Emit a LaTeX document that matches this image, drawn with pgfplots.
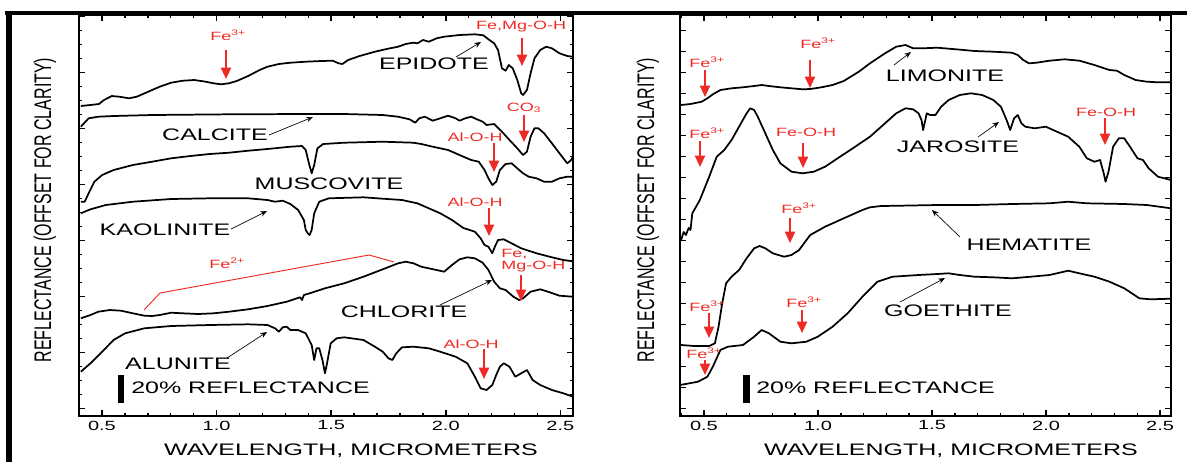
\documentclass[border=0pt]{standalone}
\usepackage{fontspec}
\setmainfont{Liberation Sans}[FakeStretch=1.5]
\newfontfamily\plainsans{Liberation Sans}
\usepackage{pgfplots}
\pgfplotsset{compat=1.18}
\usetikzlibrary{arrows.meta}
\definecolor{myred}{RGB}{238,42,36}
\pgfplotsset{spec/.style={
  scale only axis, height=300.75pt,
  ymin=0, ymax=401,
  axis line style={line width=1.5pt},
  tick align=inside, tick pos=both,
  xtick={0.5,1.0,1.5,2.0,2.5},
  xticklabels={0.5,1.0,1.5,2.0,2.5},
  minor xtick={0.4,0.6,0.7,0.8,0.9,1.1,1.2,1.3,1.4,1.6,1.7,1.8,1.9,2.1,2.2,2.3,2.4},
  yticklabels={},
  major tick length=4.5pt, minor tick length=2.6pt,
  tick style={line width=1.1pt, black},
  xticklabel style={font=\fontsize{10}{12}\selectfont},
  /pgf/number format/assume math mode=true,
  cycle list={black\\},
  every axis plot/.append style={line width=1.3pt, line join=round, no marks},
}}
\tikzset{
  lbl/.style={font=\fontsize{12.5}{14}\selectfont, inner sep=0pt},
  rl/.style={text=myred, font=\fontsize{9}{10}\selectfont, inner sep=0pt},
  rarr/.style={myred, line width=1.5pt, -{Triangle[length=8.5pt,width=7.5pt]}},
  barr/.style={black, line width=0.5pt, -{Stealth[length=5pt,width=4pt]}},
}
\begin{document}
\begin{tikzpicture}
\path[use as bounding box] (0,0) rectangle (890.25pt,-346.5pt);
% ---------------- LEFT PANEL ----------------
\begin{axis}[spec, at={(59.25pt,-312pt)}, anchor=south west, width=370.5pt,
  xmin=0.4, xmax=2.555,
  ytick={7.7,63.7,119.7,175.7,231.7,287.7,343.7,399.7},
  minor ytick={21.7,35.7,49.7,77.7,91.7,105.7,133.7,147.7,161.7,189.7,203.7,217.7,245.7,259.7,273.7,301.7,315.7,329.7,357.7,371.7,385.7}]
% EPIDOTE
\addplot coordinates {(0.408,310)(0.450,311)(0.487,312)(0.509,316)(0.543,320)(0.576,319.3)(0.618,317.7)(0.652,319.3)(0.702,324.3)(0.752,329.3)(0.802,333.3)(0.853,335.3)(0.903,336)(0.953,334.3)(0.987,332.7)(1.020,331.7)(1.054,332.7)(1.088,335)(1.138,340)(1.188,346)(1.222,349.3)(1.272,352)(1.322,353.3)(1.389,354.3)(1.457,355)(1.507,355.3)(1.532,352.7)(1.549,352)(1.574,356)(1.624,360)(1.691,364.3)(1.742,367)(1.792,369.3)(1.825,372)(1.859,373.3)(1.876,372.7)(1.901,376)(1.926,374.3)(1.943,376)(1.960,377.7)(1.993,379.3)(2.060,381)(2.127,381.7)(2.164,380.7)(2.186,376.7)(2.211,372.7)(2.228,366)(2.245,347.7)(2.261,345.3)(2.275,351)(2.292,347.7)(2.312,336)(2.329,322.7)(2.337,321)(2.354,326)(2.370,342.7)(2.387,357.7)(2.412,366)(2.438,369.3)(2.463,367.7)(2.496,362.7)(2.530,360)(2.555,359.3)};
% CALCITE
\addplot coordinates {(0.408,289.3)(0.442,297.7)(0.484,299.3)(0.551,300)(0.719,301)(1.054,301.7)(1.389,302)(1.557,302)(1.725,301)(1.792,299.3)(1.842,296.7)(1.867,293.3)(1.884,297.7)(1.909,299.3)(1.943,295.3)(1.976,297.7)(2.010,300.3)(2.043,297.7)(2.060,295.3)(2.085,297.7)(2.111,299.3)(2.136,296.7)(2.161,294.3)(2.178,291)(2.211,292)(2.245,284.3)(2.278,276)(2.312,267.7)(2.337,261)(2.354,264.3)(2.370,279.3)(2.387,287.7)(2.404,287.7)(2.429,282.7)(2.463,272.7)(2.496,262.7)(2.530,252.7)(2.547,256)(2.555,259.3)};
% MUSCOVITE
\addplot coordinates {(0.408,214.3)(0.425,214.3)(0.442,222.7)(0.467,234.3)(0.501,241)(0.551,246)(0.635,251)(0.719,254.3)(0.802,257.7)(0.886,260)(0.970,262)(1.054,263.3)(1.138,265.3)(1.222,267)(1.322,269.3)(1.373,270)(1.389,266)(1.403,252.7)(1.415,242.7)(1.426,251)(1.440,267.7)(1.465,272)(1.557,273.3)(1.725,274.3)(1.859,273.3)(1.893,272)(1.943,269.3)(2.010,266)(2.060,261)(2.111,256)(2.144,254.3)(2.169,246)(2.186,237.7)(2.203,231)(2.220,234.3)(2.236,246)(2.261,252)(2.287,252.7)(2.312,247.7)(2.337,242.7)(2.362,239.3)(2.396,237.7)(2.429,234.3)(2.463,234.3)(2.496,237.7)(2.530,239.3)(2.555,239.3)};
% KAOLINITE
\addplot coordinates {(0.408,202.7)(0.450,206.7)(0.517,211)(0.635,214.3)(0.802,217)(0.970,217.7)(1.138,217.7)(1.222,216)(1.255,214.3)(1.289,215.3)(1.322,212)(1.356,206)(1.381,196)(1.389,186)(1.398,182.7)(1.406,181)(1.415,186)(1.426,202.7)(1.448,214.3)(1.490,217.7)(1.641,218.7)(1.725,217.3)(1.809,216)(1.876,212.7)(1.926,207.7)(1.976,202.7)(2.027,196)(2.077,188)(2.127,184.3)(2.152,177.7)(2.169,171)(2.186,169.3)(2.203,162.7)(2.214,169.3)(2.228,176)(2.253,176.7)(2.287,172.7)(2.329,167.7)(2.396,162.7)(2.463,158.7)(2.513,156)(2.555,154.7)};
% CHLORITE
\addplot coordinates {(0.408,97.7)(0.450,101)(0.484,104.3)(0.534,106)(0.584,105.3)(0.635,102.7)(0.685,100.3)(0.719,100)(0.752,101)(0.802,103.3)(0.853,102.7)(0.920,102)(0.987,102.7)(1.054,104.3)(1.138,106.7)(1.222,110)(1.306,114.3)(1.364,118.7)(1.373,116)(1.381,121)(1.406,122.7)(1.473,127.7)(1.557,132.7)(1.641,139.3)(1.725,146.7)(1.792,152.7)(1.826,154.3)(1.859,152.7)(1.893,149.3)(1.960,146)(1.993,144.3)(2.027,151)(2.060,156.7)(2.094,158.7)(2.127,157.7)(2.161,153.3)(2.186,146)(2.211,134.3)(2.236,127.7)(2.261,126)(2.295,119.3)(2.320,116)(2.337,117.7)(2.370,124.3)(2.412,126.7)(2.446,124.3)(2.496,120.3)(2.555,119.3)};
% ALUNITE
\addplot coordinates {(0.408,44.3)(0.450,52.7)(0.501,64.3)(0.551,76)(0.601,82.7)(0.685,87.7)(0.802,90)(0.970,91)(1.138,91.7)(1.222,91)(1.255,87.7)(1.272,84.3)(1.289,88.7)(1.306,89.3)(1.322,86)(1.356,86)(1.389,82.7)(1.415,71)(1.426,56)(1.436,67.7)(1.448,67.7)(1.462,56)(1.473,42.7)(1.482,52.7)(1.498,72.7)(1.524,77.7)(1.557,78.7)(1.641,76)(1.691,69.3)(1.725,64.3)(1.750,57.7)(1.767,56)(1.784,62.7)(1.809,68.7)(1.859,69.3)(1.926,67.7)(1.976,64.3)(2.043,59.3)(2.094,52.7)(2.127,39.3)(2.152,27.7)(2.178,26)(2.203,31)(2.220,41)(2.236,49.3)(2.253,52.7)(2.278,49.3)(2.303,39.3)(2.329,42.7)(2.354,46)(2.379,36)(2.412,31)(2.463,26)(2.513,22.7)(2.555,19.3)};
\end{axis}
% ---------------- RIGHT PANEL ----------------
\begin{axis}[spec, at={(510pt,-312pt)}, anchor=south west, width=368.25pt,
  xmin=0.395, xmax=2.548,
  ytick={7.7,28.7,49.7,70.7,91.7,112.7,133.7,154.7,175.7,196.7,217.7,238.7,259.7,280.7,301.7,322.7,343.7,364.7,385.7}]
% LIMONITE
\addplot coordinates {(0.400,311)(0.441,312)(0.490,314.3)(0.515,317.7)(0.539,321.7)(0.572,326)(0.621,327.7)(0.671,328.7)(0.720,330)(0.753,331)(0.785,330)(0.835,328.7)(0.884,327.7)(0.933,326.7)(0.966,327)(1.015,328.7)(1.064,331)(1.113,335)(1.179,344.3)(1.228,352.7)(1.294,362.7)(1.343,369.3)(1.384,371)(1.417,367.7)(1.458,367.7)(1.523,368.3)(1.605,366.7)(1.687,365)(1.769,364.3)(1.851,363.3)(1.876,361)(1.900,356)(1.925,352.7)(1.958,353.3)(2.015,355.3)(2.081,356.7)(2.147,355.3)(2.212,351)(2.278,346)(2.311,345.3)(2.343,341)(2.393,336)(2.442,334.3)(2.491,333.7)(2.548,333.7)};
% JAROSITE
\addplot coordinates {(0.400,176)(0.411,184)(0.421,181)(0.433,188)(0.441,186)(0.449,202.7)(0.482,216)(0.523,239.3)(0.556,259.3)(0.589,266)(0.621,276)(0.654,289.3)(0.687,302.7)(0.703,307.7)(0.720,306)(0.736,299.3)(0.769,282.7)(0.802,266)(0.835,252.7)(0.884,244.3)(0.933,242.7)(0.982,244.3)(1.031,249.3)(1.097,259.3)(1.163,269.3)(1.228,279.3)(1.294,292.7)(1.343,302.7)(1.384,307.7)(1.417,306.7)(1.441,302.7)(1.454,296)(1.461,286)(1.469,294.3)(1.477,302.7)(1.491,301)(1.515,301)(1.540,309.3)(1.573,316)(1.622,321)(1.671,322.7)(1.720,321)(1.769,316)(1.802,309.3)(1.827,296)(1.843,286)(1.860,297.7)(1.876,301)(1.892,292.7)(1.909,289.3)(1.950,287.7)(1.999,289.3)(2.048,284.3)(2.097,279.3)(2.146,269.3)(2.179,257.7)(2.212,254.3)(2.237,256)(2.253,242.7)(2.261,234.3)(2.274,244.3)(2.294,269.3)(2.319,277.7)(2.343,277.7)(2.368,269.3)(2.401,257.7)(2.425,256)(2.450,247.7)(2.491,239.3)(2.548,236)};
% HEMATITE
\addplot coordinates {(0.400,71)(0.457,70)(0.523,70)(0.548,72.7)(0.564,89.3)(0.580,112.7)(0.597,132.7)(0.621,139.3)(0.654,146)(0.687,157.7)(0.720,167.7)(0.744,170)(0.769,167.7)(0.802,162.7)(0.851,159.3)(0.884,161)(0.917,166)(0.966,181)(1.031,189.3)(1.113,197.7)(1.195,206)(1.228,208.7)(1.277,210)(1.359,210.3)(1.523,211)(1.687,211)(1.851,212)(2.015,212.7)(2.097,214.3)(2.179,212.7)(2.343,212)(2.442,211)(2.548,207.7)};
% GOETHITE
\addplot coordinates {(0.395,31)(0.474,34.3)(0.515,39.3)(0.539,49.3)(0.572,66)(0.605,69.3)(0.671,71)(0.720,79.3)(0.753,86)(0.785,82.7)(0.835,74.3)(0.884,72.7)(0.949,74.3)(0.999,79.3)(1.064,89.3)(1.130,102.7)(1.195,119.3)(1.261,134.3)(1.327,139.3)(1.441,141)(1.523,142)(1.572,142.7)(1.622,141)(1.687,139.3)(1.769,138.7)(1.851,137.7)(1.933,139.3)(2.015,141)(2.097,145.3)(2.146,142.7)(2.212,139.3)(2.278,134.3)(2.343,127.7)(2.409,117.7)(2.458,116.7)(2.548,117.3)};
\end{axis}
% ---------------- ANNOTATIONS (pixel coordinates) ----------------
\begin{scope}[x=0.75pt,y=-0.75pt]
\draw[line width=3pt] (5,13) -- (1187,13);
\fill (6,11) rectangle (12,462);
% axis titles
\node[rotate=90, inner sep=0pt] at (45,210) {\scalebox{1}[1.5]{\plainsans\fontsize{12}{14}\selectfont REFLECTANCE (OFFSET FOR CLARITY)}};
\node[rotate=90, inner sep=0pt] at (648,210) {\scalebox{1}[1.5]{\plainsans\fontsize{12}{14}\selectfont REFLECTANCE (OFFSET FOR CLARITY)}};
\node[lbl] at (351,451) {WAVELENGTH, MICROMETERS};
\node[lbl] at (951,451) {WAVELENGTH, MICROMETERS};
% left panel labels
\node[rl] at (228,35) {Fe\textsuperscript{3+}};
\draw[rarr] (226,50) -- (226,79);
\node[lbl] at (434,64) {EPIDOTE};
\draw[barr] (456,57) -- (481,42);
\node[rl] at (521,27) {Fe,Mg-O-H};
\draw[rarr] (522,38) -- (522,66);
\node[lbl] at (215,135) {CALCITE};
\draw[barr] (269,135) -- (313,117);
\node[rl] at (524,108) {CO\textsubscript{3}};
\draw[rarr] (524,115) -- (524,142);
\node[rl] at (475,137) {Al-O-H};
\draw[rarr] (494,143) -- (494,172);
\node[lbl] at (329,184) {MUSCOVITE};
\node[rl] at (475,202) {Al-O-H};
\draw[rarr] (489,208) -- (489,236);
\node[lbl] at (165,230) {KAOLINITE};
\draw[barr] (231,229) -- (267,211);
\node[rl] at (227,263) {Fe\textsuperscript{2+}};
\draw[myred, line width=0.7pt] (144,310) -- (160,293) -- (369,255) -- (394,262);
\node[rl, align=left, anchor=west] at (501,261) {Fe,\\[-1pt]Mg-O-H};
\draw[rarr] (521,275) -- (521,301);
\node[lbl] at (404,312) {CHLORITE};
\draw[barr] (440,305) -- (492,280);
\node[lbl] at (178,364) {ALUNITE};
\draw[barr] (227,358) -- (267,332);
\node[rl] at (471,344) {Al-O-H};
\draw[rarr] (484,349) -- (484,379);
\fill (118,375) rectangle (124,403);
\node[lbl, anchor=west] at (131,388) {20\% REFLECTANCE};
% right panel labels
\node[rl] at (707,62) {Fe\textsuperscript{3+}};
\draw[rarr] (705,70) -- (705,97);
\node[rl] at (818,43) {Fe\textsuperscript{3+}};
\draw[rarr] (810,60) -- (810,88);
\node[lbl] at (945,76) {LIMONITE};
\draw[barr] (894,65) -- (911,52);
\node[rl] at (707,133) {Fe\textsuperscript{3+}};
\draw[rarr] (700,141) -- (700,167);
\node[rl] at (806,132) {Fe-O-H};
\draw[rarr] (803,143) -- (803,168);
\node[lbl] at (958,147) {JAROSITE};
\draw[barr] (978,137) -- (999,122);
\node[rl] at (1106,112) {Fe-O-H};
\draw[rarr] (1105,118) -- (1105,145);
\node[rl] at (799,208) {Fe\textsuperscript{3+}};
\draw[rarr] (790,218) -- (790,243);
\node[lbl] at (1029,245) {HEMATITE};
\draw[barr] (960,237) -- (932,210);
\node[rl] at (707,306) {Fe\textsuperscript{3+}};
\draw[rarr] (709,313) -- (709,338);
\node[rl] at (804,302) {Fe\textsuperscript{3+}};
\draw[rarr] (802,310) -- (802,333);
\node[lbl] at (948,311) {GOETHITE};
\draw[barr] (900,302) -- (945,278);
\node[rl] at (704,353) {Fe\textsuperscript{3+}};
\draw[rarr] (705,360) -- (705,375);
\fill (743,375) rectangle (750,403);
\node[lbl, anchor=west] at (756,388) {20\% REFLECTANCE};
\end{scope}
\end{tikzpicture}
\end{document}
